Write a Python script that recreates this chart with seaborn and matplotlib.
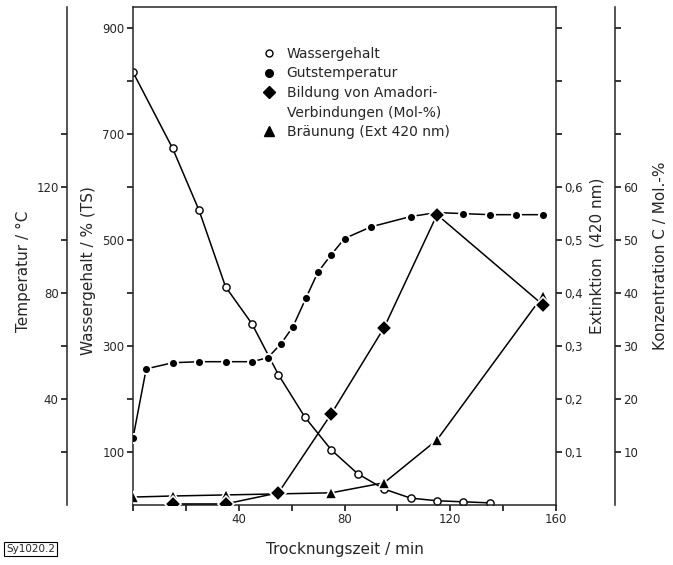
import numpy as np
import pandas as pd
import seaborn as sns
import matplotlib.pyplot as plt
from matplotlib.lines import Line2D

# Trocknungszeit / min and the read-off values of the four series
t_water = [0, 15, 25, 35, 45, 55, 65, 75, 85, 95, 105, 115, 125, 135]
water = [817, 673, 556, 412, 342, 246, 166, 104, 59, 30, 13, 8, 6, 4]          # % (TS)

t_temp = [0, 5, 15, 25, 35, 45, 51, 56, 60.5, 65.5, 70, 75, 80, 90, 105, 115, 125, 135, 145, 155]
temp = [25.3, 51.4, 53.7, 54.1, 54.1, 54.1, 55.6, 60.9, 67.3, 78.3, 88.0, 94.5, 100.6, 105.0,
        108.9, 110.4, 110.0, 109.6, 109.6, 109.6]                               # °C

t_amadori = [15, 35, 55, 75, 95, 115, 155]
amadori = [0.2, 0.2, 2.3, 17.2, 33.5, 54.8, 37.8]                               # Mol.-%

t_braun = [0, 15, 35, 75, 95, 115, 155]
braun = [0.015, 0.017, 0.019, 0.023, 0.042, 0.123, 0.395]                       # Ext 420 nm

# axis ticks / labels
x_ticks = list(range(0, 161, 20))
x_labels = ['', '', '40', '', '80', '', '120', '', '160']
w_ticks = list(range(100, 901, 100))
w_labels = ['100', '', '300', '', '500', '', '700', '', '900']
t_ticks = list(range(20, 141, 20))
t_labels = ['', '40', '', '80', '', '120', '']
e_ticks = [0.1, 0.2, 0.3, 0.4, 0.5, 0.6, 0.7, 0.8, 0.9]
e_labels = ['0,1', '0,2', '0,3', '0,4', '0,5', '0,6', '', '', '']
k_ticks = list(range(10, 91, 10))
k_labels = ['10', '20', '30', '40', '50', '60', '', '', '']

sns.set_style('ticks')
plt.rcParams['font.family'] = ['DejaVu Sans']
plt.rcParams['axes.linewidth'] = 1.1

W, H = 673, 565
fig = plt.figure(figsize=(W / 100, H / 100), dpi=100)
ax = fig.add_axes([133 / W, 1 - 505 / H, 423 / W, 498 / H])
ax_t = ax.twinx()
ax_e = ax.twinx()
ax_k = ax.twinx()

tick_kw = dict(direction='out', length=4, width=1.1, labelsize=8.5, pad=2, color='black')

# main axes: Wassergehalt
ax.set_xlim(0, 160)
ax.set_ylim(0, 940)
ax.set_xticks(x_ticks)
ax.set_xticklabels(x_labels)
ax.set_yticks(w_ticks)
ax.set_yticklabels(w_labels)
ax.tick_params(axis='both', **tick_kw)
ax.spines['right'].set_visible(False)
ax.set_xlabel('Trocknungszeit / min', fontsize=11)
ax.xaxis.set_label_coords(0.5, -0.075)
ax.set_ylabel('Wassergehalt / % (TS)', fontsize=11, va='center')
ax.yaxis.set_label_coords(-0.106, 0.47)

# temperature axis, offset to the left
ax_t.set_ylim(0, 188)
ax_t.yaxis.set_ticks_position('left')
ax_t.yaxis.set_label_position('left')
for s in ['right', 'top', 'bottom']:
    ax_t.spines[s].set_visible(False)
ax_t.spines['left'].set_visible(True)
ax_t.spines['left'].set_position(('axes', -66 / 423))
ax_t.set_yticks(t_ticks)
ax_t.set_yticklabels(t_labels)
ax_t.tick_params(axis='y', **tick_kw)
ax_t.set_ylabel('Temperatur / °C', fontsize=11, va='center')
ax_t.yaxis.set_label_coords(-0.26, 0.47)

# extinction axis on the box's right side
ax_e.set_ylim(0, 0.94)
for s in ['left', 'top', 'bottom']:
    ax_e.spines[s].set_visible(False)
ax_e.set_yticks(e_ticks)
ax_e.set_yticklabels(e_labels)
ax_e.tick_params(axis='y', **tick_kw)
ax_e.set_ylabel('Extinktion  (420 nm)', fontsize=11, va='center')
ax_e.yaxis.set_label_coords(1.097, 0.5)

# concentration axis, offset to the right
ax_k.set_ylim(0, 94)
for s in ['left', 'top', 'bottom']:
    ax_k.spines[s].set_visible(False)
ax_k.spines['right'].set_position(('axes', 1 + 59 / 423))
ax_k.set_yticks(k_ticks)
ax_k.set_yticklabels(k_labels)
ax_k.tick_params(axis='y', **tick_kw)
ax_k.set_ylabel('Konzentration C / Mol.-%', fontsize=11, va='center')
ax_k.yaxis.set_label_coords(1.246, 0.5)

line_kw = dict(color='black', lw=1.1, sort=False)

sns.lineplot(x=t_water, y=water, ax=ax, marker='o', ms=5.2, mfc='white', mec='black', mew=1.0, **line_kw)
sns.lineplot(x=t_temp, y=temp, ax=ax_t, marker='o', ms=6.5, mfc='black', mec='white', mew=1.4, **line_kw)
sns.lineplot(x=t_amadori, y=amadori, ax=ax_k, marker='D', ms=8, mfc='black', mec='white', mew=1.2, **line_kw)
sns.lineplot(x=t_braun, y=braun, ax=ax_e, marker='^', ms=8, mfc='black', mec='white', mew=1.2, **line_kw)

handles = [
    Line2D([], [], ls='none', marker='o', ms=5, mfc='white', mec='black', mew=1.0),
    Line2D([], [], ls='none', marker='o', ms=5.5, color='black'),
    Line2D([], [], ls='none', marker='D', ms=6, color='black'),
    Line2D([], [], ls='none'),
    Line2D([], [], ls='none', marker='^', ms=6.5, color='black'),
]
labels = ['Wassergehalt', 'Gutstemperatur', 'Bildung von Amadori-',
          'Verbindungen (Mol-%)', 'Bräunung (Ext 420 nm)']
ax_k.legend(handles, labels, loc='upper left', bbox_to_anchor=(0.306, 0.92),
            frameon=False, fontsize=10, handlelength=1.0, handletextpad=0.75,
            labelspacing=0.4, borderaxespad=0, borderpad=0)

fig.text(6 / W, 1 - 554 / H, 'Sy1020.2', fontsize=7.5, va='bottom', ha='left',
         bbox=dict(boxstyle='square,pad=0.15', fc='white', ec='black', lw=0.8))

fig.savefig('out.png', dpi=100)
